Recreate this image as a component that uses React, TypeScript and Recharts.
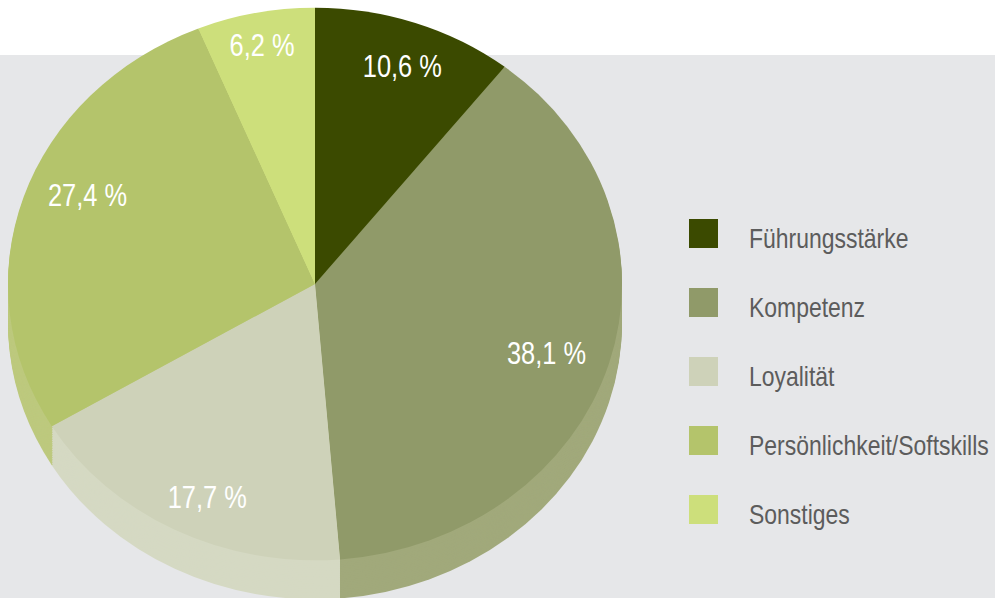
import React from 'react';
import { PieChart, Pie, Cell, Legend } from 'recharts';

// ---- data ----
const categories = ['Führungsstärke', 'Kompetenz', 'Loyalität', 'Persönlichkeit/Softskills', 'Sonstiges'];
const shares = [10.6, 38.1, 17.7, 27.4, 6.2];
const valueLabels = ['10,6 %', '38,1 %', '17,7 %', '27,4 %', '6,2 %'];

// ---- styles ----
const topColors = ['#3b4a00', '#909a69', '#ced2b9', '#b4c46b', '#cddf7b'];
const wallColors = ['#4c5a12', '#a1a97b', '#d5d9c3', '#bdc97e', '#d5e38c'];
const labelAngleShift = [-0.7, -1.7, 2.7, -5.1, 0.1];
const labelRadius = [258, 244, 260, 248, 271];

const data = categories.map((name, i) => ({ name, value: shares[i], label: valueLabels[i] }));

const W = 995;
const H = 598;
const CX = 315;
const CY = 284;
const R = 307;
const TILT = 0.9;
const DEPTH = 39;
const NARROW = 0.82;
const FONT = "'Liberation Sans', Arial, sans-serif";

const LAYERS = 22;
const layerOffsets = Array.from({ length: LAYERS }, (_, i) => ((LAYERS - i) * (DEPTH / TILT)) / LAYERS);

const renderLabel = (props: any) => {
  const { cx, cy, midAngle, index } = props;
  const a = ((midAngle + labelAngleShift[index]) * Math.PI) / 180;
  const r = labelRadius[index];
  const x = cx + r * Math.cos(a);
  const y = cy - r * Math.sin(a);
  return (
    <text
      transform={`translate(${x} ${y}) scale(${NARROW} ${1 / TILT})`}
      x={0}
      y={11}
      textAnchor="middle"
      fill="#ffffff"
      fontSize={31}
      fontFamily={FONT}
    >
      {data[index].label}
    </text>
  );
};

const renderLegend = () => (
  <svg width={306} height={330} style={{ overflow: 'visible', display: 'block' }}>
    {categories.map((name, i) => (
      <g key={name}>
        <rect x={0} y={i * 69} width={29} height={29} fill={topColors[i]} />
        <text
          transform={`translate(60 ${i * 69 + 29}) scale(${NARROW} 1)`}
          x={0}
          y={0}
          fontSize={28}
          fill="#5c5c5c"
          fontFamily={FONT}
        >
          {name}
        </text>
      </g>
    ))}
  </svg>
);

export default function App() {
  return (
    <div style={{ position: 'absolute', left: 0, top: 0, width: W, height: H, background: '#ffffff', overflow: 'hidden' }}>
      <style>{`.pie3d .recharts-surface{transform:scaleY(${TILT});transform-origin:0 ${CY}px;overflow:visible !important;}`}</style>
      <div style={{ position: 'absolute', left: 0, top: 55, width: W, height: H - 55, background: '#e6e7e9' }} />
      <div className="pie3d" style={{ position: 'absolute', left: 0, top: 0 }}>
        <PieChart width={W} height={H} margin={{ top: 0, right: 0, bottom: 0, left: 0 }}>
          {layerOffsets.map((off, li) => (
            <Pie
              key={`wall-${li}`}
              data={data}
              dataKey="value"
              nameKey="name"
              cx={CX}
              cy={CY + off}
              outerRadius={R}
              startAngle={90}
              endAngle={-270}
              stroke="none"
              legendType="none"
              isAnimationActive={false}
              labelLine={false}
            >
              {data.map((d, i) => (
                <Cell key={d.name} fill={wallColors[i]} stroke="none" />
              ))}
            </Pie>
          ))}
          <Pie
            data={data}
            dataKey="value"
            nameKey="name"
            cx={CX}
            cy={CY}
            outerRadius={R}
            startAngle={90}
            endAngle={-270}
            stroke="none"
            isAnimationActive={false}
            labelLine={false}
            label={renderLabel}
          >
            {data.map((d, i) => (
              <Cell key={d.name} fill={topColors[i]} stroke="none" />
            ))}
          </Pie>
          <Legend
            content={renderLegend}
            wrapperStyle={{ position: 'absolute', left: 689, top: 219, width: 306, height: 330 }}
          />
        </PieChart>
      </div>
    </div>
  );
}
